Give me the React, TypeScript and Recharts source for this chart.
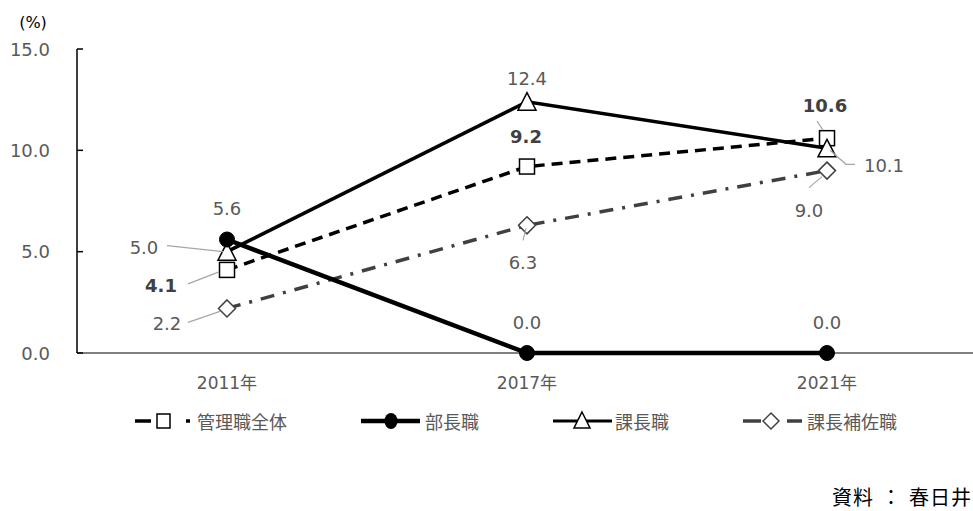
import React from 'react';
import { LineChart, Line, XAxis, YAxis, LabelList, Legend, Customized } from 'recharts';

const categories = ['2011年', '2017年', '2021年'];
const allManagers = [4.1, 9.2, 10.6];
const directors = [5.6, 0.0, 0.0];
const sectionChiefs = [5.0, 12.4, 10.1];
const deputyChiefs = [2.2, 6.3, 9.0];
const yTicks = [0, 5, 10, 15];
const seriesNames = ['管理職全体', '部長職', '課長職', '課長補佐職'];
const unitLabel = '(%)';
const sourceNote = '資料：春日井市';

const data = categories.map((c, i) => ({
  cat: c,
  all: allManagers[i],
  dir: directors[i],
  chief: sectionChiefs[i],
  deputy: deputyChiefs[i],
}));

const NUM_FONT = '"DejaVu Sans", Verdana, "Noto Sans CJK JP", sans-serif';
const CJK_FONT = '"Noto Sans CJK JP", "Noto Sans", sans-serif';
const GRAY = '#595959';

type LabelPos = { dx: number; dy: number; leader?: number[][] };

const allPos: LabelPos[] = [
  { dx: -66, dy: 16, leader: [[-39, 14], [-8, 2]] },
  { dx: -1, dy: -30 },
  { dx: -2, dy: -33, leader: [[-10, -17], [-4, -8]] },
];
const dirPos: LabelPos[] = [
  { dx: 0, dy: -31 },
  { dx: 0, dy: -31 },
  { dx: 0, dy: -31 },
];
const chiefPos: LabelPos[] = [
  { dx: -83, dy: -4, leader: [[-60, -6], [-4, 0]] },
  { dx: 0, dy: -23 },
  { dx: 57, dy: 17, leader: [[28, 16], [19, 16], [3, 2]] },
];
const deputyPos: LabelPos[] = [
  { dx: -60, dy: 15, leader: [[-39, 14], [-7, 3]] },
  { dx: -4, dy: 37, leader: [[-4, 15], [-1, 3]] },
  { dx: -18, dy: 40, leader: [[-18, 17], [-5, 6]] },
];

const makeLabel = (pos: LabelPos[], bold: boolean) => (props: any) => {
  const { x, y, value, index } = props;
  const p = pos[index];
  if (!p || x == null || y == null) return null;
  return (
    <g key={`lbl-${index}`}>
      {p.leader && (
        <polyline
          points={p.leader.map(([a, b]) => `${x + a},${y + b}`).join(' ')}
          fill="none"
          stroke="#a6a6a6"
          strokeWidth={1.2}
        />
      )}
      <text
        x={x + p.dx}
        y={y + p.dy}
        textAnchor="middle"
        dominantBaseline="central"
        fontFamily={NUM_FONT}
        fontSize={18}
        fontWeight={bold ? 'bold' : 'normal'}
        fill={bold ? '#404040' : GRAY}
      >
        {Number(value).toFixed(1)}
      </text>
    </g>
  );
};

const SquareDot = (props: any) => {
  const { cx, cy, index } = props;
  if (cx == null || cy == null) return null;
  return <rect key={`sq-${index}`} x={cx - 7.5} y={cy - 7.5} width={15} height={15} fill="#fff" stroke="#000" strokeWidth={1.5} />;
};
const CircleDot = (props: any) => {
  const { cx, cy, index } = props;
  if (cx == null || cy == null) return null;
  return <circle key={`ci-${index}`} cx={cx} cy={cy} r={7.5} fill="#000" stroke="#000" />;
};
const TriangleDot = (props: any) => {
  const { cx, cy, index } = props;
  if (cx == null || cy == null) return null;
  return (
    <polygon
      key={`tr-${index}`}
      points={`${cx},${cy - 9} ${cx + 9},${cy + 8.5} ${cx - 9},${cy + 8.5}`}
      fill="#fff"
      stroke="#000"
      strokeWidth={1.5}
    />
  );
};
const DiamondDot = (props: any) => {
  const { cx, cy, index } = props;
  if (cx == null || cy == null) return null;
  return (
    <polygon
      key={`di-${index}`}
      points={`${cx},${cy - 8.5} ${cx + 8.5},${cy} ${cx},${cy + 8.5} ${cx - 8.5},${cy}`}
      fill="#fff"
      stroke="#404040"
      strokeWidth={1.5}
    />
  );
};

const YTick = (props: any) => {
  const { x, y, payload } = props;
  return (
    <g>
      <line x1={x + 27} x2={x + 33} y1={y} y2={y} stroke="#000" strokeWidth={1.5} />
      <text x={x} y={y} textAnchor="end" dominantBaseline="central" fontFamily={NUM_FONT} fontSize={18} fill={GRAY}>
        {Number(payload.value).toFixed(1)}
      </text>
    </g>
  );
};

const XTick = (props: any) => {
  const { x, y, payload } = props;
  return (
    <text x={x} y={y + 30} textAnchor="middle" dominantBaseline="central" fontFamily={NUM_FONT} fontSize={17} fill={GRAY}>
      {payload.value}
    </text>
  );
};

const LegendContent = () => {
  const cy = 15;
  const textProps = { y: cy, dominantBaseline: 'central' as const, fontFamily: CJK_FONT, fontSize: 18, fill: GRAY };
  return (
    <svg width={973} height={30} style={{ display: 'block' }}>
      {/* 管理職全体 */}
      <line x1={135} x2={151} y1={cy} y2={cy} stroke="#000" strokeWidth={3.5} />
      <rect x={157} y={cy - 7} width={13} height={14} fill="#fff" stroke="#000" strokeWidth={1.5} />
      <line x1={186} x2={190} y1={cy} y2={cy} stroke="#000" strokeWidth={3.5} />
      <text x={197} {...textProps}>{seriesNames[0]}</text>
      {/* 部長職 */}
      <line x1={361} x2={420} y1={cy} y2={cy} stroke="#000" strokeWidth={4.5} />
      <ellipse cx={391} cy={cy} rx={6.5} ry={8} fill="#000" />
      <text x={425} {...textProps}>{seriesNames[1]}</text>
      {/* 課長職 */}
      <line x1={553} x2={612} y1={cy} y2={cy} stroke="#000" strokeWidth={3} />
      <polygon points={`582,${cy - 9} 590,${cy + 7} 574,${cy + 7}`} fill="#fff" stroke="#000" strokeWidth={1.5} />
      <text x={615} {...textProps}>{seriesNames[2]}</text>
      {/* 課長補佐職 */}
      <line x1={743} x2={761} y1={cy} y2={cy} stroke="#404040" strokeWidth={3.5} />
      <polygon points={`771,${cy - 8} 779,${cy} 771,${cy + 8} 763,${cy}`} fill="#fff" stroke="#404040" strokeWidth={1.5} />
      <line x1={787} x2={802} y1={cy} y2={cy} stroke="#404040" strokeWidth={3.5} />
      <text x={807} {...textProps}>{seriesNames[3]}</text>
    </svg>
  );
};

const Extras = () => (
  <g>
    <text x={33} y={22} textAnchor="middle" dominantBaseline="central" fontFamily={NUM_FONT} fontSize={16} fill="#000">
      {unitLabel}
    </text>
  </g>
);

const [notePrefix, noteSuffix] = sourceNote.split('：');

export default function App() {
  return (
    <div style={{ position: 'absolute', left: 0, top: 0, width: 973, height: 511, overflow: 'hidden', background: '#fff' }}>
      <LineChart width={1000} height={511} data={data} margin={{ top: 49, right: 23, left: 0, bottom: 128 }}>
        <XAxis
          dataKey="cat"
          height={30}
          padding={{ left: 150, right: 150 }}
          axisLine={{ stroke: '#000', strokeWidth: 1 }}
          tickLine={false}
          tickSize={0}
          tickMargin={0}
          tick={<XTick />}
          interval={0}
        />
        <YAxis
          width={77}
          domain={[0, 15]}
          ticks={yTicks}
          axisLine={{ stroke: '#000', strokeWidth: 1.5 }}
          tickLine={false}
          tickSize={0}
          tickMargin={27}
          tick={<YTick />}
          interval={0}
        />
        <Legend layout="vertical" align="center" verticalAlign="middle" content={<LegendContent />} wrapperStyle={{ left: 0, top: 406, width: 973, height: 30 }} />
        <Line
          dataKey="deputy"
          name={seriesNames[3]}
          stroke="#404040"
          strokeWidth={3.5}
          strokeDasharray="14 9 3 9"
          dot={<DiamondDot />}
          activeDot={false}
          isAnimationActive={false}
        >
          <LabelList dataKey="deputy" content={makeLabel(deputyPos, false)} />
        </Line>
        <Line
          dataKey="all"
          name={seriesNames[0]}
          stroke="#000"
          strokeWidth={3.5}
          strokeDasharray="11 7"
          dot={<SquareDot />}
          activeDot={false}
          isAnimationActive={false}
        >
          <LabelList dataKey="all" content={makeLabel(allPos, true)} />
        </Line>
        <Line
          dataKey="chief"
          name={seriesNames[2]}
          stroke="#000"
          strokeWidth={3.5}
          dot={<TriangleDot />}
          activeDot={false}
          isAnimationActive={false}
        >
          <LabelList dataKey="chief" content={makeLabel(chiefPos, false)} />
        </Line>
        <Line
          dataKey="dir"
          name={seriesNames[1]}
          stroke="#000"
          strokeWidth={4.5}
          dot={<CircleDot />}
          activeDot={false}
          isAnimationActive={false}
        >
          <LabelList dataKey="dir" content={makeLabel(dirPos, false)} />
        </Line>
        <Customized component={<Extras />} />
      </LineChart>
      <div style={{ position: 'absolute', left: 832, top: 483, fontFamily: CJK_FONT, fontSize: 20, letterSpacing: 1, color: '#000', whiteSpace: 'nowrap', lineHeight: '28px' }}>
        {notePrefix}
        <span style={{ padding: '0 7px' }}>：</span>
        {noteSuffix}
      </div>
    </div>
  );
}
